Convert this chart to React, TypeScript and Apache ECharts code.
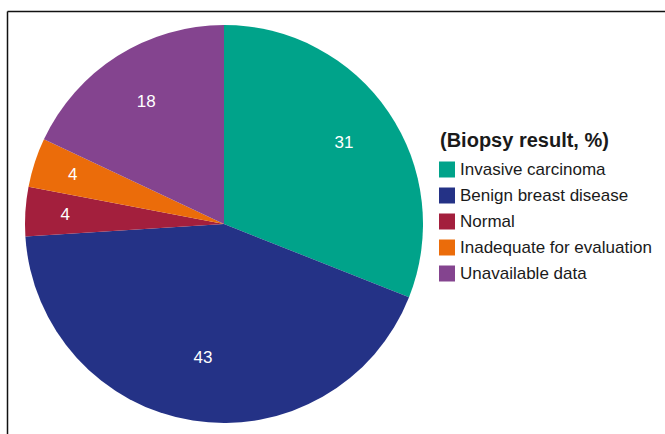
import React, { useEffect, useRef } from "react";
import * as echarts from "echarts";

const categories = [
  "Invasive carcinoma",
  "Benign breast disease",
  "Normal",
  "Inadequate for evaluation",
  "Unavailable data",
];
const values = [31, 43, 4, 4, 18];
const colors = ["#00A38A", "#243286", "#A31F3D", "#EB6C0A", "#84448F"];
const legendTitle = "(Biopsy result, %)";

export default function App() {
  const ref = useRef<HTMLDivElement>(null);
  useEffect(() => {
    if (!ref.current) return;
    const chart = echarts.init(ref.current, null, { renderer: "svg" });
    const font = "'Liberation Sans', Arial, Helvetica, sans-serif";
    const base = categories.map((name, i) => ({ name, value: values[i] }));
    const overlay = (test: (v: number) => boolean, outer: number) => ({
      type: "pie",
      center: [224, 224],
      radius: [0, outer],
      startAngle: 90,
      clockwise: true,
      silent: true,
      avoidLabelOverlap: false,
      labelLine: { show: false },
      itemStyle: { color: "transparent", borderWidth: 0 },
      label: {
        position: "inside",
        color: "#ffffff",
        fontSize: 17,
        fontFamily: font,
        formatter: "{c}",
      },
      data: base.map((d) => ({
        ...d,
        label: { show: test(d.value) },
      })),
    });
    chart.setOption({
      animation: false,
      color: colors,
      title: {
        text: legendTitle,
        left: 440,
        top: 130,
        padding: 0,
        textStyle: {
          fontFamily: font,
          fontWeight: "bold",
          fontSize: 20,
          color: "#1a1a1a",
        },
      },
      legend: {
        orient: "vertical",
        left: 439,
        top: 161,
        padding: 0,
        icon: "rect",
        itemWidth: 16,
        itemHeight: 16,
        itemGap: 9,
        selectedMode: false,
        data: categories,
        textStyle: {
          fontFamily: font,
          fontSize: 17,
          lineHeight: 16,
          color: "#1a1a1a",
          padding: [0, 0, 0, 0],
        },
      },
      graphic: [
        {
          type: "line",
          shape: { x1: 7.5, y1: 11.5, x2: 665, y2: 11.5 },
          style: { stroke: "#111", lineWidth: 1.5 },
        },
        {
          type: "line",
          shape: { x1: 7.5, y1: 11.5, x2: 7.5, y2: 434 },
          style: { stroke: "#111", lineWidth: 1.5 },
        },
      ],
      series: [
        {
          type: "pie",
          center: [224, 224],
          radius: [0, 199],
          startAngle: 90,
          clockwise: true,
          label: { show: false },
          labelLine: { show: false },
          itemStyle: { borderWidth: 0 },
          data: base,
        },
        overlay((v) => v > 40, 264),
        overlay((v) => v >= 10 && v <= 40, 284),
        overlay((v) => v < 10, 312),
      ],
    });
    return () => chart.dispose();
  }, []);
  return (
    <div
      ref={ref}
      style={{ position: "absolute", left: 0, top: 0, width: 665, height: 434 }}
    />
  );
}
